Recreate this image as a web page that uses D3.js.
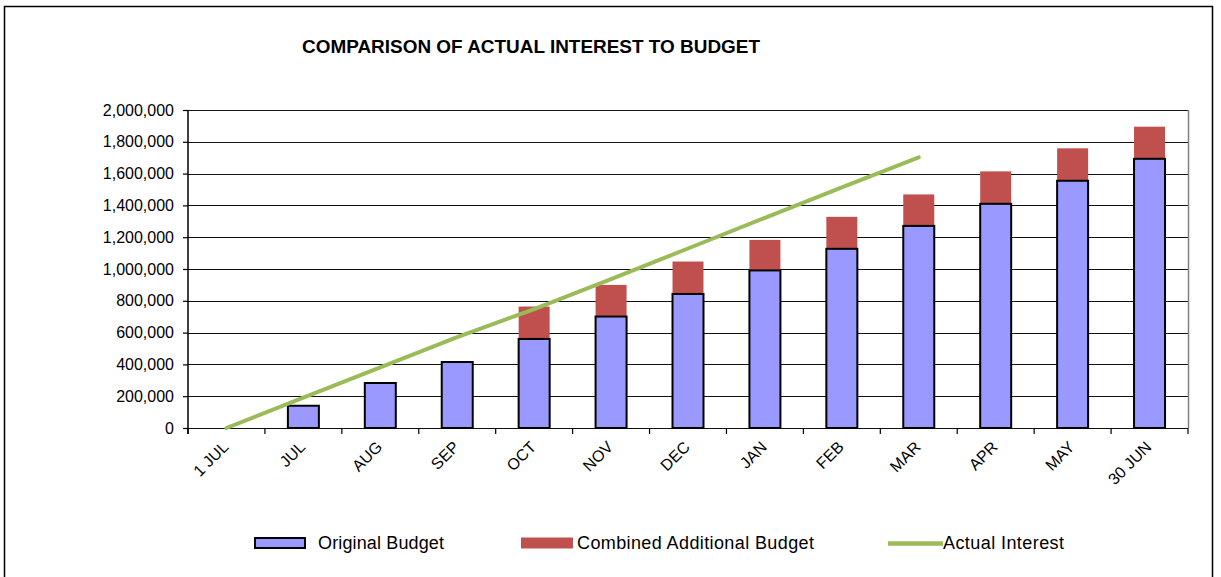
<!DOCTYPE html>
<html>
<head>
<meta charset="utf-8">
<script src="https://cdnjs.cloudflare.com/ajax/libs/d3/7.8.5/d3.min.js"></script>
<style>
  body { margin: 0; background: #fff; }
  svg { display: block; font-family: "Liberation Sans", Arial, sans-serif; }
  .axis text { font-size: 16px; fill: #000; }
  .axis path { display: none; }
  .axis line { stroke: #000; stroke-width: 1.2px; }
  .legend { font-size: 18px; fill: #000; }
</style>
</head>
<body>
<div class="chart"></div>
<script>

// data
var categories = ["1 JUL", "JUL", "AUG", "SEP", "OCT", "NOV", "DEC", "JAN", "FEB", "MAR", "APR", "MAY", "30 JUN"];
var originalBudget = [0, 140000, 283000, 415000, 560000, 701000, 843000, 991000, 1127000, 1271000, 1410000, 1555000, 1693000];
var additionalBudget = [0, 0, 0, 0, 204000, 199000, 204000, 192000, 201000, 198000, 204000, 204000, 202000];
var actualInterest = [0, 191000, 381000, 572000, 748000, 937000, 1129000, 1322000, 1514000, 1702000];
var yTicks = [0, 200000, 400000, 600000, 800000, 1000000, 1200000, 1400000, 1600000, 1800000, 2000000];
var seriesNames = ["Original Budget", "Combined Additional Budget", "Actual Interest"];

// dimensions
var W = 1221, H = 577;
var plot = {left: 188, right: 1188, top: 110, bottom: 428};
var barWidth = 31;

// colours
var blue = "#9999ff", red = "#c0504d", green = "#9bbb59";

// scales
var x = d3.scaleBand()
  .domain(categories)
  .range([plot.left, plot.right]);
var y = d3.scaleLinear()
  .domain([0, 2000000])
  .range([plot.bottom, plot.top]);

var svg = d3.select(".chart")
  .append("svg")
  .attr("width", W)
  .attr("height", H);

// outer frame
svg.append("rect")
  .attr("x", 4.5)
  .attr("y", 6.5)
  .attr("width", 1208)
  .attr("height", 590)
  .attr("fill", "none")
  .attr("stroke", "#000")
  .attr("stroke-width", 1.5);

// title
svg.append("text")
  .attr("x", 531)
  .attr("y", 53)
  .attr("text-anchor", "middle")
  .attr("textLength", 458)
  .attr("lengthAdjust", "spacingAndGlyphs")
  .style("font-size", "18.5px")
  .style("font-weight", "bold")
  .text("COMPARISON OF ACTUAL INTEREST TO BUDGET");

// gridlines
svg.append("g")
  .selectAll("line")
  .data(yTicks)
  .enter()
  .append("line")
  .attr("x1", plot.left)
  .attr("x2", plot.right)
  .attr("y1", function(d) { return Math.round(y(d)) + 0.5; })
  .attr("y2", function(d) { return Math.round(y(d)) + 0.5; })
  .attr("stroke", "#111")
  .attr("stroke-width", 1.2);

// right edge of plot area
svg.append("line")
  .attr("x1", plot.right + 0.5)
  .attr("x2", plot.right + 0.5)
  .attr("y1", plot.top)
  .attr("y2", plot.bottom)
  .attr("stroke", "#808080")
  .attr("stroke-width", 1.5);

// y axis
svg.append("g")
  .attr("class", "axis")
  .attr("transform", "translate(" + plot.left + ",0)")
  .call(d3.axisLeft(y)
    .tickValues(yTicks)
    .tickSize(5)
    .tickPadding(9)
    .tickFormat(d3.format(",")));
svg.append("line")
  .attr("x1", plot.left)
  .attr("x2", plot.left)
  .attr("y1", plot.top)
  .attr("y2", plot.bottom + 6)
  .attr("stroke", "#000")
  .attr("stroke-width", 1.5);

// x axis ticks at band edges
var edges = categories.map(function(c) { return x(c); }).concat([plot.right]);
svg.append("g")
  .selectAll("line")
  .data(edges)
  .enter()
  .append("line")
  .attr("x1", function(d) { return d; })
  .attr("x2", function(d) { return d; })
  .attr("y1", plot.bottom)
  .attr("y2", plot.bottom + 6)
  .attr("stroke", "#000")
  .attr("stroke-width", 1.2);

// x labels
svg.append("g")
  .attr("class", "axis")
  .selectAll("text")
  .data(categories)
  .enter()
  .append("text")
  .attr("text-anchor", "end")
  .attr("transform", function(d) {
    return "translate(" + (x(d) + x.bandwidth() / 2 + 3) + "," + 448 + ") rotate(-45)";
  })
  .text(function(d) { return d; });

// additional budget, stacked on original budget
svg.append("g")
  .selectAll("rect")
  .data(categories)
  .enter()
  .append("rect")
  .attr("x", function(d) { return x(d) + (x.bandwidth() - barWidth) / 2; })
  .attr("y", function(d, i) { return y(originalBudget[i] + additionalBudget[i]); })
  .attr("width", barWidth)
  .attr("height", function(d, i) { return y(originalBudget[i]) - y(originalBudget[i] + additionalBudget[i]); })
  .attr("fill", red);

// original budget
svg.append("g")
  .selectAll("rect")
  .data(categories)
  .enter()
  .filter(function(d, i) { return originalBudget[i] > 0; })
  .append("rect")
  .attr("x", function(d) { return x(d) + (x.bandwidth() - barWidth) / 2; })
  .attr("y", function(d) { return y(originalBudget[categories.indexOf(d)]); })
  .attr("width", barWidth)
  .attr("height", function(d) { return plot.bottom - y(originalBudget[categories.indexOf(d)]); })
  .attr("fill", blue)
  .attr("stroke", "#000")
  .attr("stroke-width", 2);

// actual interest line
var line = d3.line()
  .x(function(d, i) { return x(categories[i]) + x.bandwidth() / 2; })
  .y(function(d) { return y(d); });
svg.append("path")
  .datum(actualInterest)
  .attr("d", line)
  .attr("fill", "none")
  .attr("stroke", green)
  .attr("stroke-width", 4)
  .attr("stroke-linecap", "round");

// legend
var legend = svg.append("g");
legend.append("rect")
  .attr("x", 255).attr("y", 538)
  .attr("width", 50).attr("height", 10)
  .attr("fill", blue)
  .attr("stroke", "#000")
  .attr("stroke-width", 2);
legend.append("text")
  .attr("class", "legend")
  .attr("x", 318).attr("y", 549)
  .attr("textLength", 126)
  .text(seriesNames[0]);
legend.append("rect")
  .attr("x", 521).attr("y", 537.5)
  .attr("width", 52).attr("height", 11)
  .attr("fill", red);
legend.append("text")
  .attr("class", "legend")
  .attr("x", 577).attr("y", 549)
  .attr("textLength", 237)
  .text(seriesNames[1]);
legend.append("line")
  .attr("x1", 888).attr("x2", 943)
  .attr("y1", 543.5).attr("y2", 543.5)
  .attr("stroke", green)
  .attr("stroke-width", 4.5);
legend.append("text")
  .attr("class", "legend")
  .attr("x", 943).attr("y", 549)
  .attr("textLength", 121)
  .text(seriesNames[2]);

</script>
</body>
</html>
